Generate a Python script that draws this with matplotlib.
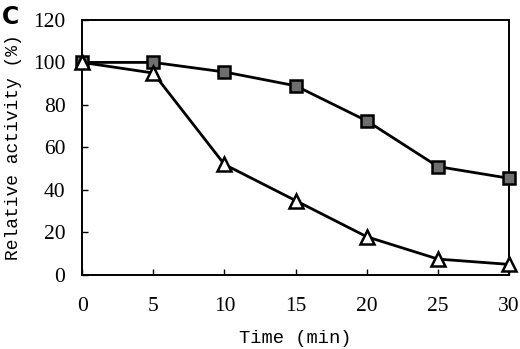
import matplotlib
matplotlib.use("Agg")
import matplotlib.pyplot as plt

time = [0, 5, 10, 15, 20, 25, 30]
square_series = [100, 100, 95.5, 89, 72.5, 51, 45.5]
triangle_series = [100, 95, 52, 35, 18, 7.5, 5]
xticks = [0, 5, 10, 15, 20, 25, 30]
yticks = [0, 20, 40, 60, 80, 100, 120]

fig = plt.figure(figsize=(5.2, 3.49), dpi=100)
ax = fig.add_axes([0.158, 0.212, 0.821, 0.731])

ax.plot(time, square_series, color='black', lw=2, marker='s', ms=8.5,
        mfc='#6e6e6e', mec='black', mew=1.8, zorder=3, clip_on=False)
ax.plot(time, triangle_series, color='black', lw=2, marker='^', ms=9.5,
        mfc='white', mec='black', mew=1.8, zorder=3, clip_on=False)

ax.set_xlim(0, 30)
ax.set_ylim(0, 120)
ax.set_xticks(xticks)
ax.set_yticks(yticks)
ax.tick_params(direction='in', length=4, width=1, labelsize=15.5)
ax.tick_params(axis='x', pad=16)
ax.tick_params(axis='y', pad=12)
for lab in ax.get_xticklabels() + ax.get_yticklabels():
    lab.set_family('Liberation Serif')
for s in ax.spines.values():
    s.set_linewidth(1.4)

ax.set_xlabel('Time (min)', family='Liberation Mono', fontsize=13.5, labelpad=10)
ax.set_ylabel('Relative activity (%)', family='Liberation Mono', fontsize=13, labelpad=8)
fig.text(0.004, 0.985, 'C', family='DejaVu Sans', fontweight='bold', fontsize=17, va='top', ha='left')

fig.savefig('out.png', dpi=100)
